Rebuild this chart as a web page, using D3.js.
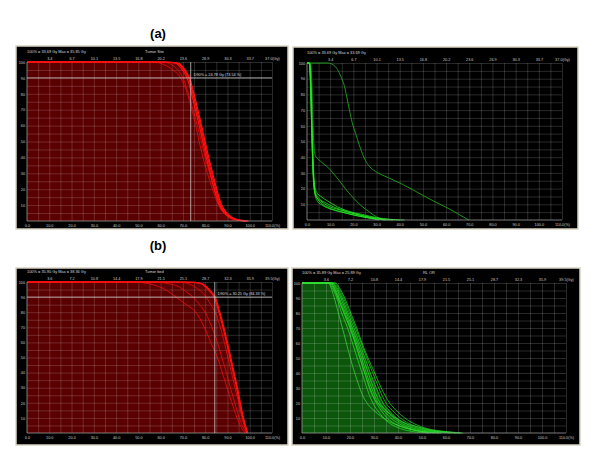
<!DOCTYPE html>
<html><head><meta charset="utf-8">
<script src="https://cdn.jsdelivr.net/npm/d3@7"></script>
<style>html,body{margin:0;padding:0;background:#fff;} svg{display:block;font-family:"Liberation Sans",Arial,sans-serif;}</style>
</head><body><svg id="c" width="600" height="457"></svg>
<script>
// ---------- tick labels ----------
const pctTicks = [0,10,20,30,40,50,60,70,80,90,100,110];
const pctLabels = ["0.0","10.0","20.0","30.0","40.0","50.0","60.0","70.0","80.0","90.0","100.0","110.0(%)"];
const doseTicks = [10,20,30,40,50,60,70,80,90,100,110];
const aDoseLabels = ["3.4","6.7","10.1","13.5","16.8","20.2","23.6","26.9","30.3","33.7","37.0(Gy)"];
const bDoseLabels = ["3.6","7.2","10.8","14.4","17.9","21.5","25.1","28.7","32.3","35.9","39.5(Gy)"];
const volTicks = [10,20,30,40,50,60,70,80,90,100];
const volLabels = ["10","20","30","40","50","60","70","80","90","100"];

// ---------- texts ----------
const aLeftInfo = "100% = 33.69 Gy   Max = 35.85 Gy", aLeftName = "Tumor Site";
const aRightInfo = "100% = 33.69 Gy   Max = 33.69 Gy", aRightName = "";
const bLeftInfo = "100% = 35.90 Gy   Max = 38.36 Gy", bLeftName = "Tumor bed";
const bRightInfo = "100% = 35.89 Gy   Max = 25.89 Gy", bRightName = "RL OR";
const aAnnot = "D90% = 24.78 Gy (73.54 %)", aAnnotAt = [73.5, 90];
const bAnnot = "D90% = 30.25 Gy (84.33 %)", bAnnotAt = [84.3, 90];

// ---------- (a) left: tumour DVH, [dose %, volume %] ----------
const aLeftMain1 = [[0,100],[62,100],[66,99.7],[68,99],[69.5,97],[71,94],[72.5,90],[74.5,80],[76.2,70],[77.9,60],[79.5,50],[81.1,40],[82.9,30],[84.7,20],[86.9,10],[89.2,5],[92,2],[95,0.6],[99,0]];
const aLeftMain2 = [[0,100],[62.5,100],[66.5,99.7],[68.5,99],[70,97],[71.5,94],[73,90],[75,80],[76.7,70],[78.4,60],[80,50],[81.6,40],[83.4,30],[85.2,20],[87.4,10],[89.7,5],[92.5,2],[95.5,0.6],[99.5,0]];
const aLeftMain3 = [[0,100],[61.5,100],[65.5,99.6],[67.5,98.8],[69,96.5],[70.5,93.5],[72,89.5],[74,79.5],[75.7,69.5],[77.4,59.5],[79,49.5],[80.6,39.5],[82.4,29.5],[84.2,19.5],[86.4,9.8],[88.7,4.8],[91.5,1.8],[94.5,0.5],[98.5,0]];
const aLeftThin1 = [[0,100],[55,100],[59,99.5],[62,98],[65.4,95],[69,90],[72,80],[74,70],[75.8,60],[77.3,50],[79,40],[81,30],[83.3,20],[86,10],[88.5,5],[92,1.5],[98,0]];
const aLeftThin2 = [[0,100],[60,100],[64,99],[67,96],[70,90],[72.5,80],[74.5,70],[76.5,60],[78.3,50],[80,40],[82,30],[84,20],[86.5,10],[89,5],[93,1.5],[98,0]];

// ---------- (a) right: organ DVHs ----------
const aRightBig = [[0,100],[9,100],[10.5,99.5],[12,98],[13.5,95],[15,90],[16.2,85],[17.2,78],[18.3,70],[19.5,62],[21,55],[22.5,48],[24.5,40],[27,34],[29.5,31],[35,27],[41.7,22.4],[49.6,16],[56,11],[61.5,7],[65,4],[69.8,0]];
const aRightBump = [[0,100],[1.2,100],[1.8,96],[2.2,80],[2.6,60],[3.0,47],[3.6,41],[5,38.5],[7,36],[9.4,33],[11.2,30],[13.7,25.5],[16.5,20],[19.4,15],[23,9.6],[27,5],[30,2],[33,0]];
const aRightC1 = [[0,100],[1,100],[1.5,92],[2,70],[2.5,45],[3,28],[3.6,20],[4.5,17],[6,15],[9,12],[13,8.5],[18,5.5],[24,3.5],[30,1.5],[36,0.4],[42,0]];
const aRightC2 = [[0,100],[0.9,100],[1.4,90],[1.9,65],[2.4,40],[3,24],[3.8,17],[5,14],[8,11],[12,8],[17,5.5],[23,3],[29,1],[34,0]];
const aRightC3 = [[0,100],[1,100],[1.5,88],[2,60],[2.5,35],[3.1,20],[4,15],[6,12],[9,9],[14,6.5],[19,4.5],[25,2.5],[32,0.8],[40,0]];
const aRightC4 = [[0,100],[1.1,100],[1.6,85],[2.1,55],[2.6,30],[3.3,18],[4.3,14],[6,11],[9,8],[13,6],[18,4],[24,2],[30,0.6],[37,0]];
const aRightC5 = [[0,100],[1.2,100],[1.7,85],[2.2,55],[2.8,28],[3.5,16],[4.5,12],[6.5,9.5],[10,7],[15,5],[20,3.2],[26,1.5],[31,0]];

// ---------- (b) left: tumour bed DVH ----------
const bLeftMain1 = [[0,100],[70,100],[75,99.8],[78,99],[80,97],[82,94],[84,90],[86.2,80],[88,70],[89.6,60],[91.1,50],[92.6,40],[94.1,30],[95.4,20],[96.9,10],[98,4],[98.8,0]];
const bLeftMain2 = [[0,100],[70.5,100],[75.5,99.8],[78.5,99],[80.5,97],[82.5,94],[84.5,90],[86.6,80],[88.4,70],[90,60],[91.5,50],[93,40],[94.5,30],[95.8,20],[97.2,10],[98.3,4],[99.1,0]];
const bLeftThin1 = [[0,100],[48,100],[52,99.5],[57,98],[62,95],[67,90],[71.5,85],[75.8,80],[79.6,70],[82.5,60],[85.5,50],[87.7,40],[89.8,30],[92,20],[94.3,10],[96.5,3],[98,0]];
const bLeftThin2 = [[0,100],[58,100],[63,99],[68,97],[72,93],[74.5,90],[77.5,85],[80,80],[83,70],[85.5,60],[87.5,50],[89.5,40],[91.3,30],[93.3,20],[95.3,10],[97.3,3],[98.6,0]];
const bLeftThin3 = [[0,100],[66,100],[71,99.5],[75,97],[78,94],[80.5,90],[82.5,85],[84.5,80],[86.8,70],[88.6,60],[90.2,50],[91.8,40],[93.4,30],[95,20],[96.6,10],[98,3],[99,0]];

// ---------- (b) right: organ DVHs ----------
const bRightG1 = [[0,100],[11,100],[12.5,97],[14.5,90],[16.5,80],[19,70],[21,60],[23,50],[25,40],[27,30],[29.5,20],[31.5,15],[34,10],[37,6],[41,3],[46,1],[53,0]];
const bRightG2 = [[0,100],[11.5,100],[13,97],[15,90],[17.5,80],[20,70],[22.2,60],[24.2,50],[26.2,40],[28.3,30],[31,20],[33,15],[35.5,10],[39,6],[44,3],[50,1],[58,0]];
const bRightG3 = [[0,100],[12,100],[13.5,97],[15.5,90],[18,80],[20.5,70],[22.7,60],[24.8,50],[26.8,40],[29,30],[31.7,20],[34,15],[37,10],[40.7,6],[45,3],[51,1],[57,0]];
const bRightG4 = [[0,100],[12.5,100],[14,97],[16.2,90],[18.6,80],[21,70],[23.3,60],[25.5,50],[27.6,40],[29.8,30],[32.5,20],[35,15],[38.3,10],[42,6],[47,3],[54,1],[62,0]];
const bRightG5 = [[0,100],[13,100],[14.5,97],[16.8,90],[19.2,80],[21.7,70],[24,60],[26.3,50],[28.5,40],[31,30],[33.8,20],[36.3,15],[39.5,10],[43.5,6],[49,3],[56,1],[64,0]];
const bRightG6 = [[0,100],[13.5,100],[15,97],[17.3,90],[19.8,80],[22.3,70],[24.6,60],[27,50],[29.5,40],[32,30],[35,20],[37.7,15],[41,10],[45,6],[50.5,3],[58,1],[66,0]];
const bRightG7 = [[0,100],[14,100],[15.5,97],[17.8,90],[20.3,80],[22.8,70],[25,60],[27.5,50],[30.3,40],[33,30],[36.5,20],[39.3,15],[42.8,10],[47,6],[52,3],[60,1],[67,0]];
const bRightG8 = [[0,100],[12,100],[13.5,96],[15.5,88],[18,78],[20.5,68],[22.5,58],[24.5,48],[26.5,38],[28.5,28],[30.5,22],[33,18],[36.5,13],[40,9],[44,6],[48.6,4],[53,2],[60,0.5],[66,0]];
const bRightG9 = [[0,100],[11,100],[12.3,96],[13.8,88],[15.5,78],[17.5,66],[19.3,55],[21,45],[23,35],[25,26],[27.5,19],[30,15],[33,11],[36.5,7.5],[40,5],[44,3],[49,1],[55,0]];

// ---------- drawing ----------
const svg = d3.select("#c");
const RED = "#ff1010", GREEN = "#22ee22", DGREEN = "#1fa31f";

const panels = [
  {box:[16,46,288,229], plot:[27,62,272,221], dose:aDoseLabels, info:aLeftInfo, name:aLeftName, nameX:145,
   fill:aLeftMain2, fillColor:"#5a0000",
   curves:[[aLeftThin1,RED,0.7],[aLeftThin2,RED,0.7],[aLeftMain3,RED,1.2],[aLeftMain1,RED,1.2],[aLeftMain2,RED,1.2]],
   annot:aAnnot, annotAt:aAnnotAt},
  {box:[293,47,578,229], plot:[307,63,562,220], dose:aDoseLabels, info:aRightInfo, name:aRightName, nameX:430,
   fill:null,
   curves:[[aRightBig,DGREEN,0.9],[aRightBump,DGREEN,0.9],[aRightC1,GREEN,0.8],[aRightC2,GREEN,0.8],[aRightC3,GREEN,0.8],[aRightC4,GREEN,0.8],[aRightC5,GREEN,0.8]]},
  {box:[16,268,288,445], plot:[27,282,272,433], dose:bDoseLabels, info:bLeftInfo, name:bLeftName, nameX:145,
   fill:bLeftMain2, fillColor:"#5a0000",
   curves:[[bLeftThin1,RED,0.7],[bLeftThin2,RED,0.7],[bLeftThin3,RED,0.7],[bLeftMain1,RED,1.2],[bLeftMain2,RED,1.2]],
   annot:bAnnot, annotAt:bAnnotAt},
  {box:[292,268,580,445], plot:[302,283,566,433], dose:bDoseLabels, info:bRightInfo, name:bRightName, nameX:423,
   fill:bRightG5, fillColor:"#0b560b",
   curves:[[bRightG1,GREEN,0.7],[bRightG2,GREEN,0.7],[bRightG3,GREEN,0.7],[bRightG4,GREEN,0.7],[bRightG5,GREEN,0.7],[bRightG6,GREEN,0.7],[bRightG7,GREEN,0.7],[bRightG8,"#33cc33",0.7],[bRightG9,"#44dd44",0.7]]}
];

function drawPanel(p){
  const [bx0,by0,bx1,by1] = p.box, [px0,py0,px1,py1] = p.plot;
  const g = svg.append("g");
  g.append("rect").attr("x",bx0).attr("y",by0).attr("width",bx1-bx0).attr("height",by1-by0)
    .attr("fill","#000").attr("stroke","#d9d5c3").attr("stroke-width",1.5);
  const x = d3.scaleLinear().domain([0,110]).range([px0,px1]);
  const y = d3.scaleLinear().domain([0,100]).range([py1,py0]);
  const H = py1-py0, W = px1-px0;

  if(p.fill){
    g.append("path").datum(p.fill).attr("fill",p.fillColor)
      .attr("d", d3.area().x(d=>x(d[0])).y0(y(0)).y1(d=>y(d[1])).curve(d3.curveMonotoneX));
  }
  const gridV = g.append("g").attr("transform",`translate(0,${py1})`)
    .call(d3.axisBottom(x).tickValues(d3.range(5,111,5)).tickSize(-H).tickFormat(""));
  const gridH = g.append("g").attr("transform",`translate(${px0},0)`)
    .call(d3.axisLeft(y).tickValues(d3.range(5,101,5)).tickSize(-W).tickFormat(""));
  [gridV,gridH].forEach(a=>{a.select(".domain").remove();
    a.selectAll("line").attr("stroke","rgba(255,255,255,0.27)").attr("stroke-width",0.6);});

  const line = d3.line().x(d=>x(d[0])).y(d=>y(d[1])).curve(d3.curveMonotoneX);
  p.curves.forEach(([data,col,w])=>{
    g.append("path").datum(data).attr("fill","none").attr("stroke",col).attr("stroke-width",w).attr("d",line);
  });

  g.append("line").attr("x1",px0).attr("x2",px0).attr("y1",py0).attr("y2",py1).attr("stroke","#9a9a9a").attr("stroke-width",0.8);
  g.append("line").attr("x1",px0).attr("x2",px1).attr("y1",py1).attr("y2",py1).attr("stroke","#9a9a9a").attr("stroke-width",0.8);

  if(p.annot){
    const [ax,ay] = p.annotAt;
    g.append("line").attr("x1",x(ax)).attr("x2",x(ax)).attr("y1",py0).attr("y2",py1).attr("stroke","#c8c8c8").attr("stroke-width",0.8);
    g.append("line").attr("x1",px0).attr("x2",px1).attr("y1",y(ay)).attr("y2",y(ay)).attr("stroke","#c8c8c8").attr("stroke-width",0.8);
    g.append("text").attr("x",x(ax)+3).attr("y",y(ay)-2).attr("fill","#ddd").attr("font-size","3.8px").text(p.annot);
  }

  const fs = "3.8px";
  const bottom = g.append("g").attr("transform",`translate(0,${py1})`)
    .call(d3.axisBottom(x).tickValues(pctTicks).tickSize(0).tickPadding(3).tickFormat((d,i)=>pctLabels[i]));
  const top = g.append("g").attr("transform",`translate(0,${py0})`)
    .call(d3.axisTop(x).tickValues(doseTicks).tickSize(0).tickPadding(2).tickFormat((d,i)=>p.dose[i]));
  const left = g.append("g").attr("transform",`translate(${px0},0)`)
    .call(d3.axisLeft(y).tickValues(volTicks).tickSize(0).tickPadding(2).tickFormat((d,i)=>volLabels[i]));
  [bottom,top,left].forEach(a=>{a.select(".domain").remove();
    a.selectAll("text").attr("fill","#c8c8c8").attr("font-size",fs).attr("font-family","Liberation Sans, Arial, sans-serif");});

  g.append("text").attr("x",px0).attr("y",py0-9).attr("fill","#d8d8d8").attr("font-size","3.9px").text(p.info);
  if(p.name) g.append("text").attr("x",p.nameX).attr("y",py0-9).attr("fill","#d8d8d8").attr("font-size","3.9px").text(p.name);
}
panels.forEach(drawPanel);

svg.append("text").attr("x",158).attr("y",38).attr("text-anchor","middle").attr("font-weight","bold").attr("font-size","13px").attr("fill","#000").text("(a)");
svg.append("text").attr("x",158).attr("y",250).attr("text-anchor","middle").attr("font-weight","bold").attr("font-size","13px").attr("fill","#000").text("(b)");
</script></body></html>
